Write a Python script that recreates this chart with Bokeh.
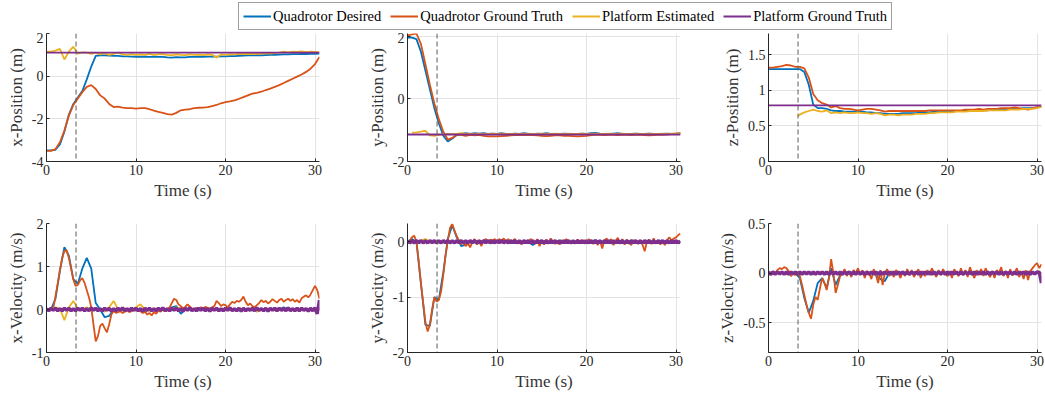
import numpy as np
from bokeh.plotting import figure
from bokeh.layouts import column, row
from bokeh.models import (Range1d, FixedTicker, Span, Legend, LegendItem,
                          CustomJSTickFormatter)
from bokeh.embed import file_html
from bokeh.resources import INLINE

nan = float("nan")

# ---------------- data ----------------
series_names = ["Quadrotor Desired", "Quadrotor Ground Truth",
                "Platform Estimated", "Platform Ground Truth"]
time_ticks = [0, 10, 20, 30]
t_switch = 3.3
t_max = 30.5

t_half = np.arange(62) * 0.5          # 0 .. 30.5 s
t_fine = np.arange(123) * 0.25        # 0 .. 30.5 s
t_const = [0.0, 30.5]
t_zest = [3.3] + list(np.arange(55) * 0.5 + 3.5)

# x-position (m)
xpos_ticks = [-4, -2, 0, 2]
xpos_desired = [
    -3.48, -3.48, -3.45, -3.2, -2.6, -1.8, -1.3, -1.0, -0.7, -0.15,
    0.45, 0.95, 0.98, 0.97, 0.96, 0.95, 0.95, 0.93, 0.93, 0.92,
    0.91, 0.91, 0.92, 0.9, 0.91, 0.9, 0.9, 0.88, 0.87, 0.89,
    0.88, 0.88, 0.9, 0.9, 0.91, 0.91, 0.92, 0.92, 0.92, 0.93,
    0.93, 0.94, 0.94, 0.95, 0.96, 0.97, 0.97, 0.98, 0.98, 0.99,
    1.0, 1.0, 1.01, 1.02, 1.02, 1.03, 1.03, 1.04, 1.04, 1.05,
    1.05, 1.06]
xpos_gt = [
    -3.5, -3.5, -3.42, -3.1, -2.55, -1.85, -1.35, -1.05, -0.75, -0.5,
    -0.42, -0.6, -0.9, -1.05, -1.3, -1.45, -1.43, -1.47, -1.5, -1.5,
    -1.52, -1.5, -1.5, -1.55, -1.62, -1.67, -1.72, -1.78, -1.8, -1.72,
    -1.6, -1.57, -1.55, -1.5, -1.48, -1.47, -1.45, -1.4, -1.35, -1.27,
    -1.22, -1.18, -1.13, -1.06, -0.98, -0.9, -0.82, -0.78, -0.73, -0.65,
    -0.58, -0.5, -0.42, -0.32, -0.22, -0.12, -0.02, 0.08, 0.2, 0.35,
    0.57, 0.9]
xpos_est = [
    1.15, 1.15, 1.2, 1.28, 0.78, 1.15, 1.38, 1.05, 1.12, 1.1,
    1.05, 1.1, 1.02, 1.08, 1.0, 1.05, 1.1, 1.02, 1.0, 1.03,
    1.0, 1.02, 1.0, 1.05, 1.0, 1.02, 1.03, 1.0, 0.98, 1.02,
    1.0, 0.99, 1.02, 1.0, 1.01, 0.99, 1.02, 1.0, 0.88, 1.02,
    1.0, 1.03, 1.02, 1.05, 1.03, 1.05, 1.04, 1.06, 1.05, 1.08,
    1.06, 1.08, 1.1, 1.15, 1.12, 1.15, 1.14, 1.16, 1.13, 1.15,
    1.14, 1.12]
xpos_plat = [1.1, 1.1]

# y-position (m)
ypos_ticks = [-2, 0, 2]
ypos_desired = [
    1.95, 1.95, 1.9, 1.5, 0.9, 0.3, -0.3, -0.78, -1.18, -1.36,
    -1.27, -1.16, -1.12, -1.1, -1.12, -1.1, -1.11, -1.1, -1.12, -1.11,
    -1.12, -1.1, -1.12, -1.13, -1.11, -1.12, -1.1, -1.12, -1.13, -1.11,
    -1.12, -1.1, -1.12, -1.13, -1.12, -1.11, -1.12, -1.13, -1.12, -1.11,
    -1.12, -1.1, -1.09, -1.11, -1.12, -1.12, -1.11, -1.1, -1.12, -1.13,
    -1.12, -1.11, -1.12, -1.12, -1.11, -1.12, -1.13, -1.12, -1.11, -1.12,
    -1.11, -1.1]
ypos_gt = [
    2.02, 2.05, 2.08, 1.75, 1.1, 0.45, -0.15, -0.65, -1.05, -1.3,
    -1.25, -1.15, -1.15, -1.18, -1.15, -1.17, -1.15, -1.18, -1.2, -1.2,
    -1.2, -1.19, -1.18, -1.17, -1.16, -1.15, -1.16, -1.15, -1.16, -1.17,
    -1.18, -1.19, -1.18, -1.17, -1.17, -1.18, -1.18, -1.19, -1.2, -1.19,
    -1.18, -1.16, -1.15, -1.15, -1.16, -1.15, -1.15, -1.16, -1.15, -1.15,
    -1.16, -1.15, -1.15, -1.16, -1.17, -1.16, -1.15, -1.15, -1.14, -1.13,
    -1.12, -1.09]
ypos_est = [
    nan, -1.08, -1.07, -1.05, -1.02, -1.17, -1.18, -1.15, -1.13, -1.12,
    -1.13, -1.12, -1.1, -1.12, -1.11, -1.12, -1.11, -1.12, -1.12, -1.11,
    -1.12, -1.11, -1.12, -1.12, -1.11, -1.12, -1.12, -1.11, -1.12, -1.12,
    -1.11, -1.12, -1.12, -1.11, -1.12, -1.12, -1.11, -1.12, -1.12, -1.11,
    -1.12, -1.12, -1.11, -1.12, -1.12, -1.11, -1.12, -1.12, -1.11, -1.12,
    -1.12, -1.11, -1.12, -1.12, -1.11, -1.12, -1.12, -1.11, -1.12, -1.11,
    -1.11, -1.1]
ypos_plat = [-1.14, -1.14]

# z-position (m)
zpos_ticks = [0, 0.5, 1, 1.5]
zpos_desired = [
    1.3, 1.3, 1.3, 1.3, 1.3, 1.3, 1.3, 1.3, 1.26, 1.08,
    0.8, 0.75, 0.75, 0.74, 0.72, 0.71, 0.71, 0.7, 0.7, 0.7,
    0.7, 0.7, 0.69, 0.69, 0.68, 0.68, 0.67, 0.67, 0.67, 0.67,
    0.68, 0.68, 0.68, 0.68, 0.69, 0.69, 0.69, 0.7, 0.7, 0.7,
    0.7, 0.71, 0.71, 0.71, 0.71, 0.72, 0.72, 0.72, 0.72, 0.72,
    0.73, 0.73, 0.73, 0.73, 0.74, 0.74, 0.74, 0.75, 0.75, 0.75,
    0.76, 0.77]
zpos_gt = [
    1.32, 1.32, 1.33, 1.34, 1.36, 1.35, 1.33, 1.33, 1.31, 1.18,
    0.95, 0.86, 0.82, 0.8, 0.76, 0.78, 0.75, 0.74, 0.74, 0.73,
    0.72, 0.73, 0.74, 0.74, 0.73, 0.72, 0.7, 0.71, 0.71, 0.71,
    0.71, 0.71, 0.71, 0.71, 0.71, 0.71, 0.72, 0.72, 0.72, 0.72,
    0.72, 0.72, 0.72, 0.72, 0.73, 0.73, 0.73, 0.74, 0.73, 0.74,
    0.74, 0.74, 0.75, 0.75, 0.75, 0.76, 0.75, 0.74, 0.73, 0.75,
    0.76, 0.78]
zpos_est = [
    0.64, 0.66, 0.69, 0.71, 0.73, 0.71, 0.7, 0.72, 0.68, 0.69,
    0.68, 0.69, 0.68, 0.68, 0.69, 0.68, 0.68, 0.67, 0.68, 0.67,
    0.65, 0.66, 0.66, 0.65, 0.66, 0.66, 0.66, 0.67, 0.67, 0.67,
    0.68, 0.68, 0.69, 0.69, 0.69, 0.69, 0.7, 0.7, 0.7, 0.71,
    0.71, 0.71, 0.71, 0.72, 0.72, 0.72, 0.72, 0.72, 0.73, 0.73,
    0.73, 0.74, 0.74, 0.74, 0.75, 0.77]
zpos_plat = [0.79, 0.79]

# x-velocity (m/s)
xvel_ticks = [-1, 0, 1, 2]
xvel_desired = [
    0.0, 0.0, 0.25, 0.9, 1.45, 1.25, 0.7, 0.6, 0.95, 1.2,
    0.95, 0.15, 0.0, -0.18, -0.15, 0.0, 0.0, -0.02, 0.0, -0.03,
    0.0, 0.02, -0.05, 0.0, -0.02, 0.0, 0.02, 0.0, 0.05, 0.08,
    -0.1, 0.0, 0.03, 0.0, -0.02, 0.02, 0.0, 0.02, 0.0, -0.02,
    0.0, 0.02, 0.0, 0.0, 0.02, 0.0, -0.02, 0.0, 0.02, 0.0,
    0.0, 0.02, 0.0, 0.05, 0.0, 0.02, 0.0, 0.02, 0.0, 0.02,
    0.0, 0.0]
xvel_gt = [
    0.0, 0.0, 0.0, 0.02, 0.3, 0.6, 0.92, 1.2,
    1.36, 1.38, 1.2, 0.95, 0.7, 0.55, 0.57, 0.68,
    0.73, 0.62, 0.45, 0.28, 0.05, -0.35, -0.74, -0.62,
    -0.38, -0.33, -0.44, -0.53, -0.35, -0.12, -0.03, -0.08,
    -0.06, -0.04, -0.08, -0.05, -0.02, -0.06, -0.04, 0.0,
    -0.03, 0.02, -0.04, -0.08, -0.05, -0.12, -0.08, -0.14,
    -0.06, -0.1, -0.03, -0.05, 0.0, -0.04, -0.02, 0.05,
    0.15, 0.25, 0.22, 0.12, 0.08, 0.03, 0.06, 0.12,
    0.07, 0.02, 0.0, 0.04, 0.02, 0.05, 0.03, 0.06,
    0.04, 0.02, 0.05, 0.08, 0.2, 0.15, 0.08, 0.12,
    0.1, 0.05, 0.12, 0.18, 0.15, 0.2, 0.18, 0.22,
    0.3, 0.18, 0.1, 0.14, 0.08, 0.05, 0.1, 0.15,
    0.22, 0.17, 0.2, 0.14, 0.18, 0.24, 0.2, 0.16,
    0.22, 0.25, 0.18, 0.22, 0.25, 0.2, 0.24, 0.18,
    0.22, 0.16, 0.26, 0.3, 0.33, 0.28, 0.35, 0.45,
    0.55, 0.45, 0.25]
xvel_est = [
    0.0, 0.02, 0.05, 0.02, -0.25, 0.05, 0.2, 0.02, 0.0, 0.05,
    -0.02, 0.0, 0.02, -0.05, 0.05, 0.2, 0.0, -0.03, 0.02, -0.02,
    0.05, 0.12, 0.0, -0.03, 0.02, -0.02, 0.0, 0.02, 0.0, 0.05,
    0.02, 0.0, 0.03, -0.02, 0.0, 0.02, 0.0, -0.02, 0.02, 0.0,
    -0.02, 0.02, 0.0, 0.03, 0.0, -0.02, 0.02, -0.05, 0.0, 0.02,
    0.0, -0.02, 0.02, 0.0, 0.03, 0.0, -0.02, 0.02, 0.0, 0.02,
    0.0, 0.0]
xvel_plat = [
    0.02, -0.03, 0.03, -0.02, 0.03, -0.03, 0.02, -0.03,
    0.03, -0.02, 0.03, -0.03, 0.02, -0.03, 0.03, -0.02,
    0.03, -0.03, 0.02, -0.03, 0.04, -0.02, 0.03, -0.03,
    0.02, -0.03, 0.03, -0.02, 0.03, -0.04, 0.02, -0.03,
    0.03, -0.02, 0.04, -0.03, 0.02, -0.03, 0.03, -0.02,
    0.03, -0.03, 0.02, -0.04, 0.03, -0.02, 0.03, -0.03,
    0.02, -0.03, 0.03, -0.02, 0.04, -0.03, 0.02, -0.03,
    0.03, -0.02, 0.03, -0.03, 0.02, -0.04, 0.03, -0.02,
    0.04, -0.03, 0.02, -0.03, 0.03, -0.02, 0.03, -0.03,
    0.02, -0.04, 0.03, -0.02, 0.03, -0.03, 0.02, -0.03,
    0.03, -0.02, 0.04, -0.03, 0.02, -0.03, 0.03, -0.04,
    0.03, -0.03, 0.02, -0.02, 0.03, -0.03, 0.04, -0.02,
    0.02, -0.03, 0.03, -0.04, 0.03, -0.02, 0.03, -0.03,
    0.03, -0.02, 0.02, -0.03, 0.04, -0.03, 0.02, -0.03,
    0.03, -0.03, 0.03, -0.02, 0.02, -0.04, 0.03, -0.03,
    0.04, -0.1, 0.22]

# y-velocity (m/s)
yvel_ticks = [-2, -1, 0]
yvel_desired = [
    0.0, 0.05, 0.0, -0.75, -1.5, -1.52, -1.0, -1.05, -0.55, 0.05,
    0.3, 0.08, -0.08, -0.05, 0.0, 0.02, -0.03, 0.0, 0.02, -0.02,
    0.0, 0.02, 0.0, -0.02, 0.0, 0.01, -0.02, 0.0, -0.06, 0.0,
    0.02, 0.0, -0.02, 0.0, 0.02, 0.0, -0.02, 0.0, 0.01, 0.0,
    -0.02, 0.0, 0.03, 0.0, -0.02, 0.0, 0.01, 0.0, -0.02, 0.0,
    0.02, 0.0, -0.02, 0.0, 0.01, 0.0, -0.02, 0.0, 0.02, 0.0,
    0.01, 0.0]
yvel_gt = [
    0.0, 0.02, 0.08, 0.11, 0.0, -0.35, -0.75, -1.1,
    -1.45, -1.62, -1.5, -1.22, -1.0, -1.08, -1.05, -0.9,
    -0.6, -0.25, 0.02, 0.25, 0.32, 0.2, 0.1, 0.02,
    -0.05, 0.0, -0.08, -0.03, -0.1, 0.0, 0.05, -0.05,
    0.03, -0.08, 0.02, 0.05, -0.02, 0.04, 0.02, 0.05,
    -0.02, 0.05, 0.02, 0.06, 0.0, 0.05, -0.03, 0.02,
    0.05, -0.02, 0.0, -0.05, 0.02, 0.0, -0.03, 0.05,
    0.02, -0.04, 0.05, -0.08, 0.02, -0.05, 0.04, -0.02,
    0.06, 0.0, -0.04, 0.02, -0.05, 0.03, -0.02, 0.05,
    0.0, -0.03, 0.02, -0.02, 0.04, -0.03, 0.0, 0.03,
    -0.02, 0.05, 0.0, -0.04, 0.02, -0.06, 0.03, -0.12,
    0.02, 0.06, -0.03, 0.05, -0.06, 0.02, 0.07, -0.04,
    0.05, -0.05, 0.04, -0.02, -0.06, 0.03, 0.0, -0.04,
    0.03, -0.05, -0.17, 0.0, 0.04, -0.04, 0.06, -0.03,
    0.02, -0.05, 0.0, -0.06, 0.03, 0.08, 0.02, 0.06,
    0.08, 0.12, 0.15]
yvel_est = [
    0.0, 0.0, 0.0, 0.02, 0.05, 0.0, -0.01, 0.0, 0.01, 0.0,
    0.0, 0.01, 0.0, 0.0, -0.01, 0.0, 0.01, 0.0, 0.0, -0.01,
    0.0, 0.01, 0.0, 0.0, -0.01, 0.0, 0.01, 0.0, 0.0, -0.01,
    0.0, 0.01, 0.0, 0.0, -0.01, 0.0, 0.01, 0.0, 0.0, -0.01,
    0.0, 0.01, 0.0, 0.0, -0.01, 0.0, 0.01, 0.0, 0.0, -0.01,
    0.0, 0.01, 0.0, 0.0, -0.01, 0.0, 0.01, 0.0, 0.0, -0.01,
    0.0, 0.0]
yvel_plat = [
    0.02, -0.02, 0.015, -0.02, 0.02, -0.015, 0.02, -0.02,
    0.015, -0.02, 0.02, -0.015, 0.02, -0.02, 0.015, -0.02,
    0.02, -0.015, 0.02, -0.02, 0.015, -0.02, 0.02, -0.015,
    0.02, -0.02, 0.015, -0.02, 0.02, -0.015, 0.02, -0.02,
    0.015, -0.02, 0.02, -0.015, 0.02, -0.02, 0.015, -0.02,
    0.02, -0.015, 0.02, -0.02, 0.015, -0.02, 0.02, -0.015,
    0.02, -0.02, 0.015, -0.02, 0.02, -0.015, 0.02, -0.02,
    0.015, -0.02, 0.02, -0.015, 0.02, -0.02, 0.015, -0.02,
    0.02, -0.015, 0.02, -0.02, 0.015, -0.02, 0.02, -0.015,
    0.02, -0.02, 0.015, -0.02, 0.02, -0.015, 0.02, -0.02,
    0.015, -0.02, 0.02, -0.015, 0.02, -0.02, 0.015, -0.02,
    0.02, -0.015, 0.02, -0.02, 0.015, -0.02, 0.02, -0.015,
    0.02, -0.02, 0.015, -0.02, 0.02, -0.015, 0.02, -0.02,
    0.015, -0.02, 0.02, -0.015, 0.02, -0.02, 0.015, -0.02,
    0.02, -0.015, 0.02, -0.02, 0.015, -0.02, 0.02, -0.015,
    0.02, -0.02, 0.01]

# z-velocity (m/s)
zvel_ticks = [-0.5, 0, 0.5]
zvel_desired = [
    0.0, 0.0, 0.01, 0.0, 0.0, 0.01, 0.0, -0.05, -0.25, -0.4,
    -0.28, -0.1, -0.05, -0.15, 0.05, -0.12, -0.02, 0.0, 0.01, 0.0,
    0.0, -0.01, 0.0, 0.0, -0.02, -0.06, -0.08, 0.0, 0.0, 0.01,
    0.0, -0.01, 0.0, 0.0, 0.01, 0.0, 0.0, -0.01, 0.0, 0.0,
    0.01, 0.0, 0.0, -0.01, 0.0, 0.0, 0.01, 0.0, 0.0, -0.01,
    0.0, 0.0, 0.01, 0.0, 0.0, -0.01, 0.0, 0.0, 0.01, 0.0,
    0.0, 0.0]
zvel_gt = [
    0.0, -0.02, 0.02, 0.0, 0.03, 0.05, 0.04, 0.06,
    0.05, 0.02, -0.03, 0.0, -0.02, 0.01, -0.03, -0.12,
    -0.22, -0.32, -0.4, -0.46, -0.32, -0.24, -0.27, -0.15,
    -0.05, -0.1, -0.17, -0.05, 0.14, 0.0, -0.2, -0.12,
    -0.03, 0.0, 0.04, -0.03, 0.02, -0.04, 0.03, 0.0,
    0.05, -0.02, 0.03, -0.05, 0.02, 0.0, -0.06, 0.04,
    -0.02, -0.1, 0.03, -0.12, 0.0, 0.04, -0.03, 0.02,
    -0.04, 0.03, 0.0, -0.05, 0.02, -0.03, 0.04, -0.02,
    0.03, -0.04, 0.0, 0.04, -0.05, 0.02, -0.03, 0.03,
    -0.02, 0.05, 0.0, -0.04, 0.03, -0.02, 0.04, 0.0,
    -0.03, 0.02, -0.05, 0.04, 0.0, -0.03, 0.05, -0.02,
    0.03, -0.04, 0.06, 0.0, -0.05, 0.03, -0.02, 0.04,
    -0.03, 0.05, 0.0, -0.04, 0.02, -0.05, 0.03, 0.0,
    0.06, -0.03, 0.02, -0.05, 0.04, -0.02, 0.0, 0.05,
    -0.04, 0.02, -0.06, 0.03, -0.07, 0.02, 0.05, 0.08,
    0.1, 0.05, 0.09]
zvel_est = [
    0.0, 0.0, 0.01, 0.0, 0.0, -0.01, 0.0, 0.01, 0.0, 0.0,
    -0.01, 0.0, 0.01, 0.0, 0.0, -0.01, 0.0, 0.01, 0.0, 0.0,
    -0.01, 0.0, 0.01, 0.0, 0.0, -0.01, 0.0, 0.01, 0.0, 0.0,
    -0.01, 0.0, 0.01, 0.0, 0.0, -0.01, 0.0, 0.01, 0.0, 0.0,
    -0.01, 0.0, 0.01, 0.0, 0.0, -0.01, 0.0, 0.01, 0.0, 0.0,
    -0.01, 0.0, 0.01, 0.0, 0.0, -0.01, 0.0, 0.01, 0.0, 0.0,
    0.0, 0.0]
zvel_plat = [
    0.012, -0.012, 0.01, -0.012, 0.012, -0.01, 0.012, -0.012,
    0.01, -0.012, 0.012, -0.01, 0.012, -0.012, 0.01, -0.012,
    0.012, -0.01, 0.012, -0.012, 0.01, -0.012, 0.012, -0.01,
    0.012, -0.012, 0.01, -0.012, 0.012, -0.01, 0.012, -0.012,
    0.01, -0.012, 0.012, -0.01, 0.012, -0.012, 0.01, -0.012,
    0.012, -0.01, 0.012, -0.012, 0.01, -0.012, 0.012, -0.01,
    0.012, -0.012, 0.01, -0.012, 0.012, -0.01, 0.012, -0.012,
    0.01, -0.012, 0.012, -0.01, 0.012, -0.012, 0.01, -0.012,
    0.012, -0.01, 0.012, -0.012, 0.01, -0.012, 0.012, -0.01,
    0.012, -0.012, 0.01, -0.012, 0.012, -0.01, 0.012, -0.012,
    0.01, -0.012, 0.012, -0.01, 0.012, -0.012, 0.01, -0.012,
    0.012, -0.01, 0.012, -0.012, 0.01, -0.012, 0.012, -0.01,
    0.012, -0.012, 0.01, -0.012, 0.012, -0.01, 0.012, -0.012,
    0.01, -0.012, 0.012, -0.01, 0.012, -0.012, 0.01, -0.012,
    0.012, -0.01, 0.012, -0.012, 0.01, -0.012, 0.012, -0.01,
    0.012, 0.01, -0.1]

# ---------------- style ----------------
FONT = "Liberation Serif"
COLORS = ["#0072BD", "#D95319", "#EDB120", "#7E2F8E"]
AX = "#262626"
FRAME_W = 273


def make_panel(ylabel, yr, yticks, data, bl, br, bt, bb, fh, plat_w):
    p = figure(frame_width=FRAME_W, frame_height=fh,
               x_range=Range1d(0, t_max), y_range=Range1d(*yr),
               output_backend="svg", toolbar_location=None,
               min_border_left=bl, min_border_right=br,
               min_border_top=bt, min_border_bottom=bb)
    p.outline_line_color = None
    p.background_fill_color = "white"
    p.border_fill_color = "white"
    p.xaxis.ticker = FixedTicker(ticks=time_ticks)
    p.yaxis.ticker = FixedTicker(ticks=yticks)
    p.xaxis.formatter = CustomJSTickFormatter(code="return String(tick);")
    p.yaxis.formatter = CustomJSTickFormatter(code="return String(tick);")
    p.xaxis.axis_label = "Time (s)"
    p.yaxis.axis_label = ylabel
    for ax in p.axis:
        ax.axis_line_color = AX
        ax.major_tick_line_color = AX
        ax.major_tick_in = 3
        ax.major_tick_out = 0
        ax.minor_tick_line_color = None
        ax.major_label_text_font = FONT
        ax.major_label_text_font_size = "14px"
        ax.major_label_text_color = AX
        ax.axis_label_text_font = FONT
        ax.axis_label_text_font_size = "17px"
        ax.axis_label_text_font_style = "normal"
        ax.axis_label_text_color = "#333333"
        ax.major_label_standoff = 3
        ax.axis_label_standoff = 3
    p.grid.grid_line_color = "#e3e3e3"
    p.grid.grid_line_width = 1
    for i, (t, y) in enumerate(data):
        assert len(t) == len(y), (ylabel, i, len(t), len(y))
        w = plat_w if i == 3 else 1.8
        p.line(list(t), list(y), line_color=COLORS[i], line_width=w)
    p.add_layout(Span(location=t_switch, dimension="height",
                      line_color="#5a5a5a", line_dash="5 3", line_width=1))
    return p


R1 = dict(bt=1, bb=44, fh=128)
R2 = dict(bt=18, bb=42, fh=129)

p1 = make_panel("x-Position (m)", (-4, 2), xpos_ticks,
                [(t_half, xpos_desired), (t_half, xpos_gt), (t_half, xpos_est), (t_const, xpos_plat)],
                46, 42, plat_w=1.8, **R1)
p2 = make_panel("y-Position (m)", (-2, 2.08), ypos_ticks,
                [(t_half, ypos_desired), (t_half, ypos_gt), (t_half, ypos_est), (t_const, ypos_plat)],
                46, 32, plat_w=1.8, **R1)
p3 = make_panel("z-Position (m)", (0, 1.8), zpos_ticks,
                [(t_half, zpos_desired), (t_half, zpos_gt), (t_zest, zpos_est), (t_const, zpos_plat)],
                56, 4, plat_w=1.8, **R1)
p4 = make_panel("x-Velocity (m/s)", (-1, 2), xvel_ticks,
                [(t_half, xvel_desired), (t_fine, xvel_gt), (t_half, xvel_est), (t_fine, xvel_plat)],
                46, 42, plat_w=3.5, **R2)
p5 = make_panel("y-Velocity (m/s)", (-2, 0.33), yvel_ticks,
                [(t_half, yvel_desired), (t_fine, yvel_gt), (t_half, yvel_est), (t_fine, yvel_plat)],
                46, 32, plat_w=3.5, **R2)
p6 = make_panel("z-Velocity (m/s)", (-0.8, 0.5), zvel_ticks,
                [(t_half, zvel_desired), (t_fine, zvel_gt), (t_half, zvel_est), (t_fine, zvel_plat)],
                56, 4, plat_w=3.5, **R2)

# legend strip
lf = figure(width=1045, height=32, x_range=Range1d(0, 1), y_range=Range1d(0, 1),
            output_backend="svg", toolbar_location=None,
            x_axis_location=None, y_axis_location=None,
            min_border_left=85, min_border_right=0, min_border_top=0, min_border_bottom=0)
lf.outline_line_color = None
lf.grid.visible = False
items = []
for name, c in zip(series_names, COLORS):
    r = lf.line([-10, -9], [-10, -9], line_color=c, line_width=2)
    items.append(LegendItem(label=name, renderers=[r]))
leg = Legend(items=items, orientation="horizontal", location="center",
             label_text_font=FONT, label_text_font_size="14.5px", label_text_color="#000000",
             glyph_width=28, glyph_height=18, label_height=18, label_standoff=2,
             spacing=9, padding=4, margin=0,
             border_line_color="#404040", border_line_width=1,
             background_fill_color="white", background_fill_alpha=1)
lf.add_layout(leg, "center")

layout = column(lf, row(p1, p2, p3), row(p4, p5, p6))

with open("out.html", "w") as f:
    f.write(file_html(layout, INLINE))
